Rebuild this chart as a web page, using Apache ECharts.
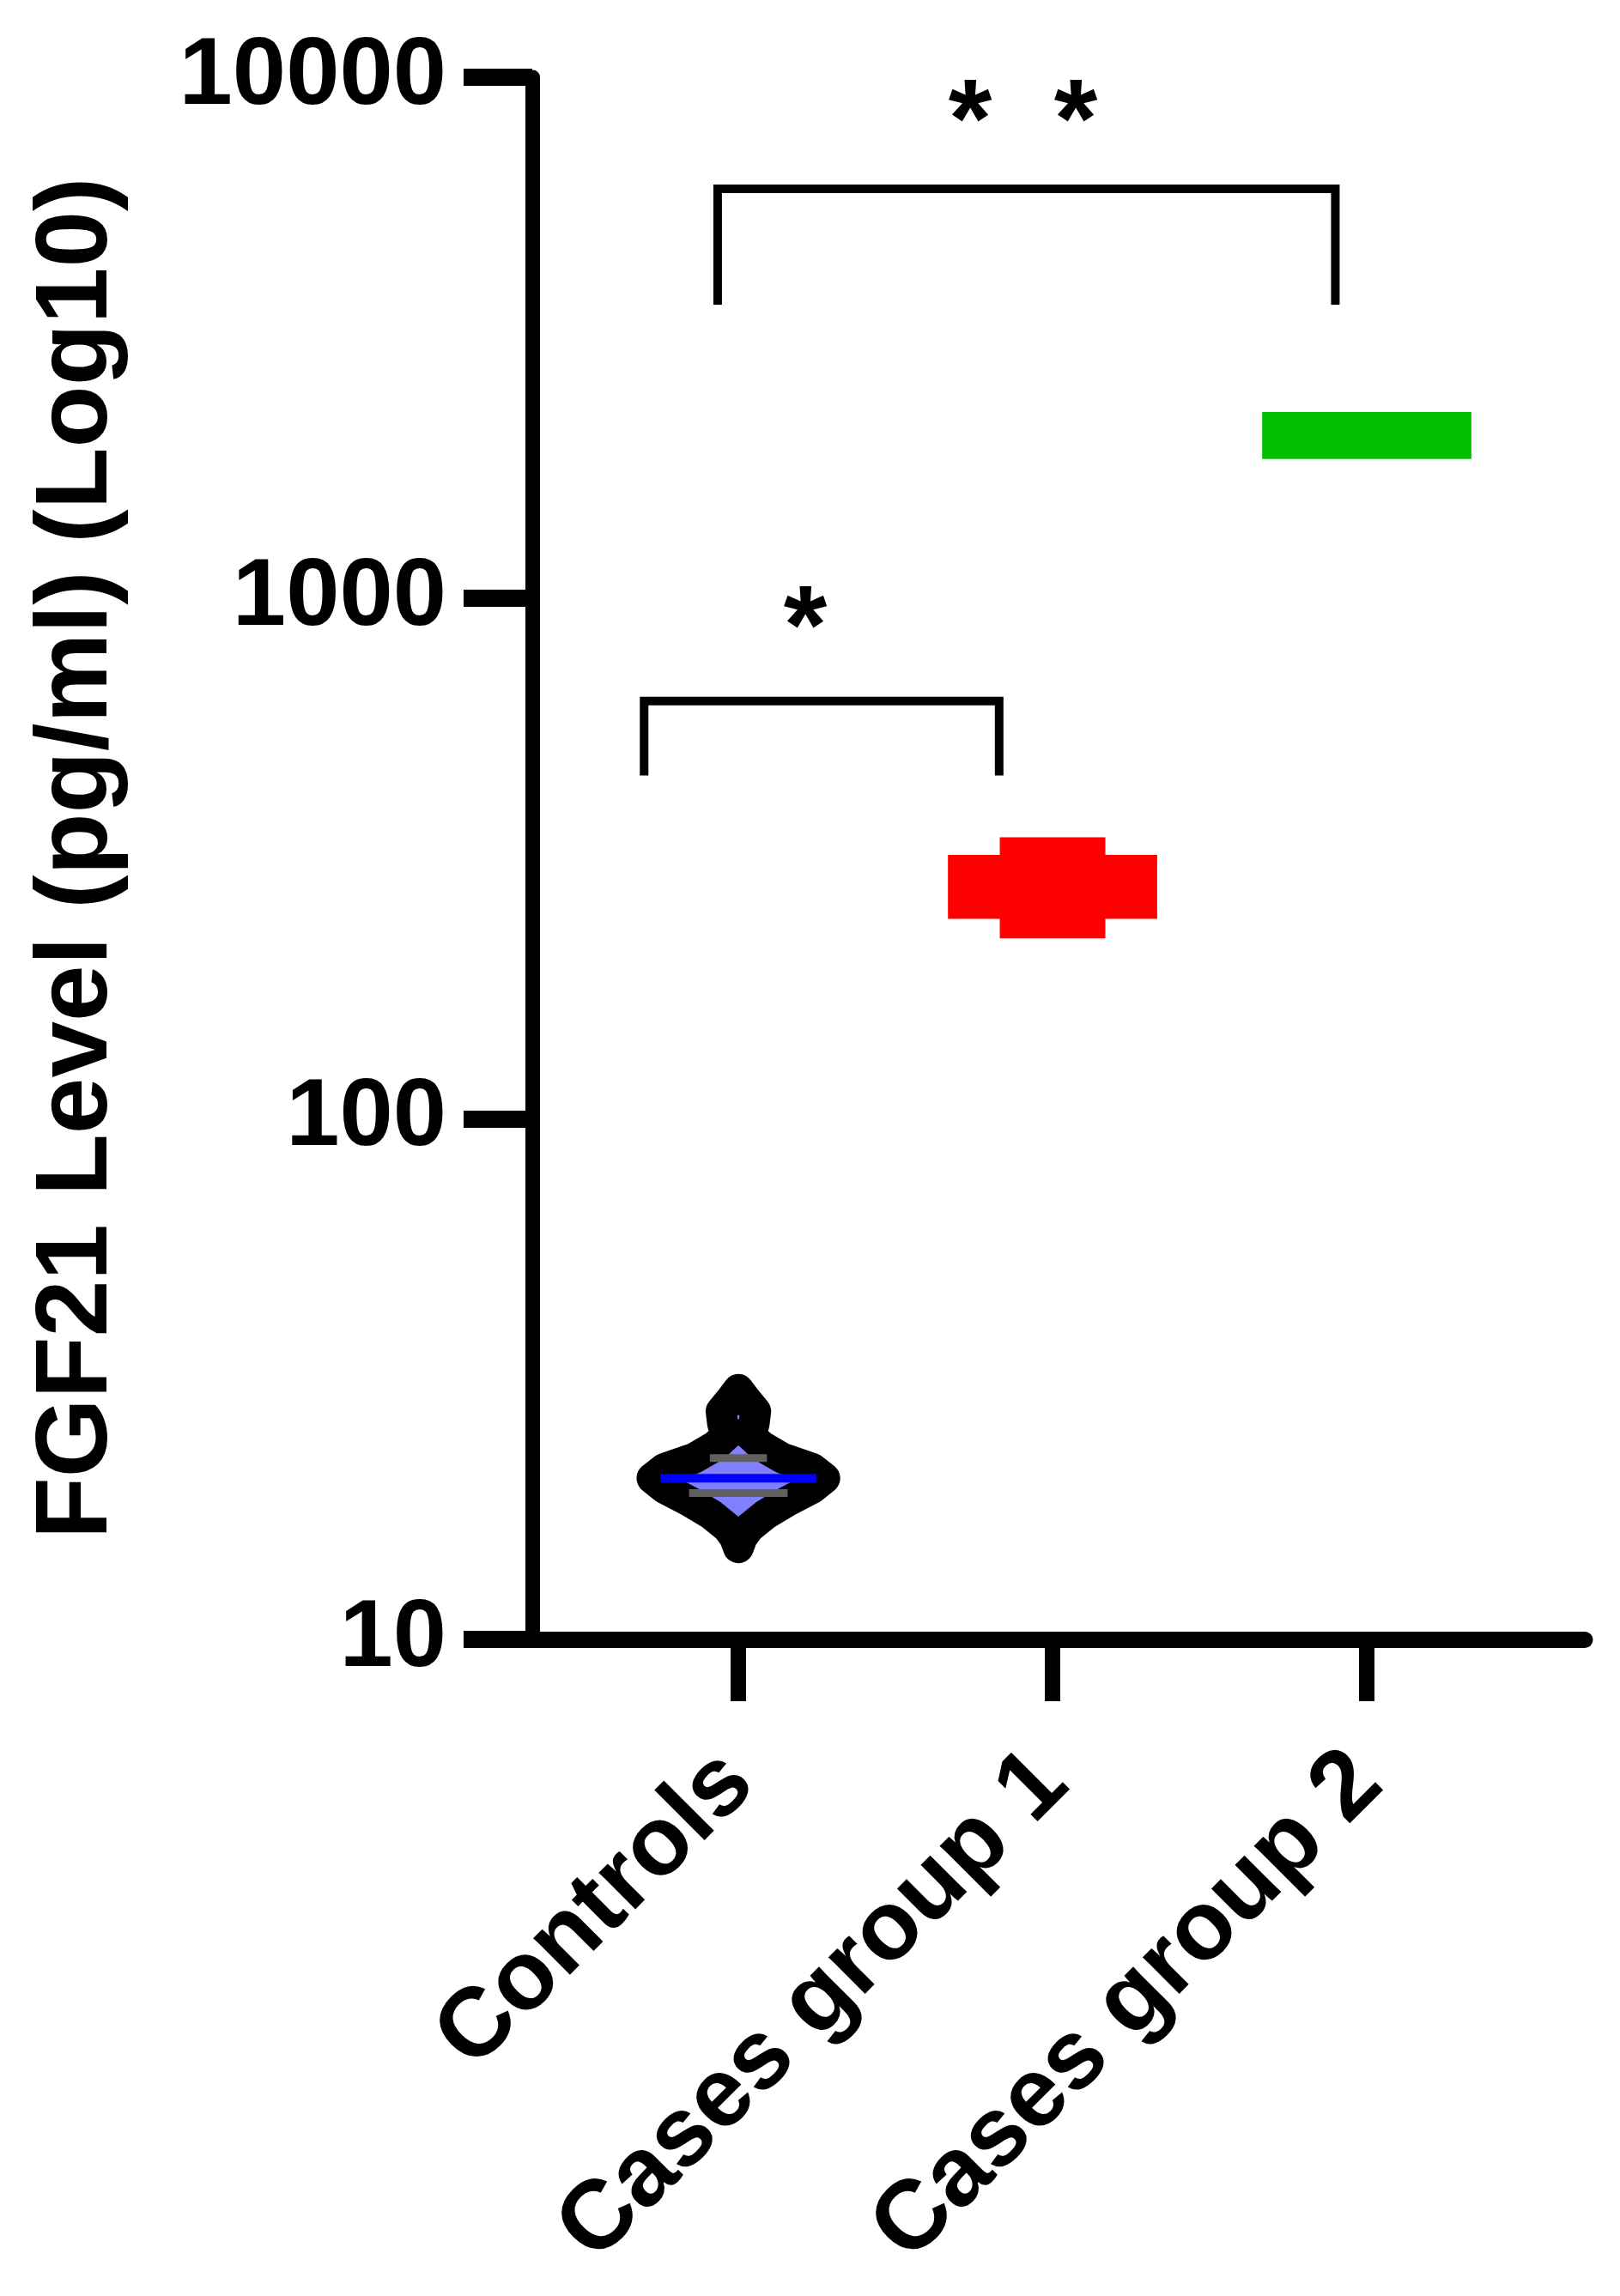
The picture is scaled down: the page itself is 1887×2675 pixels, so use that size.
<!DOCTYPE html>
<html><head><meta charset="utf-8">
<script src="https://cdn.jsdelivr.net/npm/echarts@6/dist/echarts.min.js"></script>
<style>html,body{margin:0;padding:0;background:#fff}#c{width:1887px;height:2675px}</style>
</head><body><div id="c"></div>
<script>
const categories = ['Controls', 'Cases group 1', 'Cases group 2'];
const yTicks = [10, 100, 1000, 10000];
// Controls violin: values (pg/ml) and half-widths (fraction of category band)
const violinValues = [30.2, 29.0, 27.4, 25.9, 24.9, 23.5, 22.3, 21.3, 20.4, 19.5, 18.4, 17.4, 16.4, 15.7, 15.0];
const violinWidths = [0, 0.022, 0.055, 0.05, 0.03, 0.075, 0.14, 0.235, 0.275, 0.235, 0.155, 0.088, 0.035, 0.012, 0];
const violinMedian = 20.4;
const violinQuartiles = [22.3, 19.1];
// Cases group 1: [category index, low, high, half-width]
const group1Blocks = [[1, 242, 321, 0.333], [1, 222, 347, 0.168]];
// Cases group 2
const group2Blocks = [[2, 1849, 2276, 0.333]];
// significance brackets: [x1, x2, yTop, yLegEnd]
const brackets = [[-0.30, 0.83, 634, 456], [-0.066, 1.90, 6105, 3656]];
const stars = [[0.213, 859], [0.738, 8054], [1.074, 8054]];

const BAND = 366;
const SW = 36;
const chart = echarts.init(document.getElementById('c'));
function interpW(v){
  for (let i=0;i<violinValues.length-1;i++){
    const a=violinValues[i], b=violinValues[i+1];
    if ((v<=a && v>=b)){ const t=(a-v)/(a-b); return violinWidths[i]+(violinWidths[i+1]-violinWidths[i])*t; }
  }
  return 0;
}
const font = 'Liberation Sans, Arial, sans-serif';
chart.setOption({
  animation:false,
  grid:[{left:620,right:41,top:90,bottom:765},{left:677,width:1098,top:90,bottom:765}],
  xAxis:[
    {type:'value',gridIndex:0,min:-0.656,max:2.694,axisLine:{show:true,onZero:false,lineStyle:{color:'#000',width:19}},
     axisTick:{show:false},axisLabel:{show:false},splitLine:{show:false}},
    {type:'category',gridIndex:1,data:categories,axisLine:{show:false},
     axisTick:{show:true,alignWithLabel:true,length:72,lineStyle:{color:'#000',width:18}},
     axisLabel:{rotate:45,margin:150,fontSize:114,fontWeight:'bold',color:'#000',fontFamily:font,interval:0}}
  ],
  yAxis:[
    {type:'log',logBase:10,gridIndex:0,min:10,max:10000,
     axisLine:{show:true,onZero:false,lineStyle:{color:'#000',width:17}},
     axisTick:{show:true,length:80,lineStyle:{color:'#000',width:20}},
     axisLabel:{margin:100,fontSize:112,fontWeight:'bold',color:'#000',fontFamily:font,
       formatter:v=>yTicks.includes(Math.round(v))?String(Math.round(v)):''},
     splitLine:{show:false},minorTick:{show:false},
     name:'FGF21 Level (pg/ml) (Log10)',nameLocation:'middle',nameGap:470,
     nameTextStyle:{fontSize:118,fontWeight:'bold',color:'#000',fontFamily:font}},
    {type:'log',gridIndex:1,min:10,max:10000,show:false}
  ],
  series:[
    {type:'custom',xAxisIndex:0,yAxisIndex:0,data:[0],renderItem:(p,api)=>{
      const c0=api.coord([0,violinMedian]);
      const pts=[];
      violinValues.forEach((v,i)=>{pts.push(api.coord([violinWidths[i],v]));});
      for(let i=violinValues.length-1;i>=0;i--) pts.push(api.coord([-violinWidths[i],violinValues[i]]));
      const children=[{type:'polygon',shape:{points:pts},style:{fill:'#8080ff',stroke:'#000',lineWidth:SW,lineJoin:'round'}}];
      violinQuartiles.forEach(q=>{
        const w=interpW(q)*BAND-SW/2; const y=api.coord([0,q])[1];
        children.push({type:'line',shape:{x1:c0[0]-w,y1:y,x2:c0[0]+w,y2:y},style:{stroke:'#606060',lineWidth:9}});
      });
      const wm=interpW(violinMedian)*BAND-SW/2+8;
      children.push({type:'line',shape:{x1:c0[0]-wm,y1:c0[1],x2:c0[0]+wm,y2:c0[1]},style:{stroke:'#0000ff',lineWidth:10}});
      return {type:'group',children};
    }},
    {type:'custom',xAxisIndex:0,yAxisIndex:0,data:group1Blocks,renderItem:(p,api)=>{
      const x=api.value(0),lo=api.value(1),hi=api.value(2),w=api.value(3);
      const a=api.coord([x-w,hi]),b=api.coord([x+w,lo]);
      return {type:'rect',shape:{x:a[0],y:a[1],width:b[0]-a[0],height:b[1]-a[1]},style:{fill:'#ff0000'}};
    }},
    {type:'custom',xAxisIndex:0,yAxisIndex:0,data:group2Blocks,renderItem:(p,api)=>{
      const x=api.value(0),lo=api.value(1),hi=api.value(2),w=api.value(3);
      const a=api.coord([x-w,hi]),b=api.coord([x+w,lo]);
      return {type:'rect',shape:{x:a[0],y:a[1],width:b[0]-a[0],height:b[1]-a[1]},style:{fill:'#00c000'}};
    }},
    {type:'custom',xAxisIndex:0,yAxisIndex:0,data:brackets,renderItem:(p,api)=>{
      const p1=api.coord([api.value(0),api.value(3)]),p2=api.coord([api.value(0),api.value(2)]),
            p3=api.coord([api.value(1),api.value(2)]),p4=api.coord([api.value(1),api.value(3)]);
      return {type:'polyline',shape:{points:[p1,p2,p3,p4]},style:{stroke:'#000',lineWidth:10,fill:null}};
    }},
    {type:'custom',xAxisIndex:0,yAxisIndex:0,data:stars,renderItem:(p,api)=>{
      const c=api.coord([api.value(0),api.value(1)]);
      return {type:'text',x:c[0],y:c[1],style:{text:'*',fontSize:130,fontWeight:'bold',fontFamily:font,fill:'#000',align:'center',verticalAlign:'middle'}};
    }}
  ]
});
</script></body></html>
